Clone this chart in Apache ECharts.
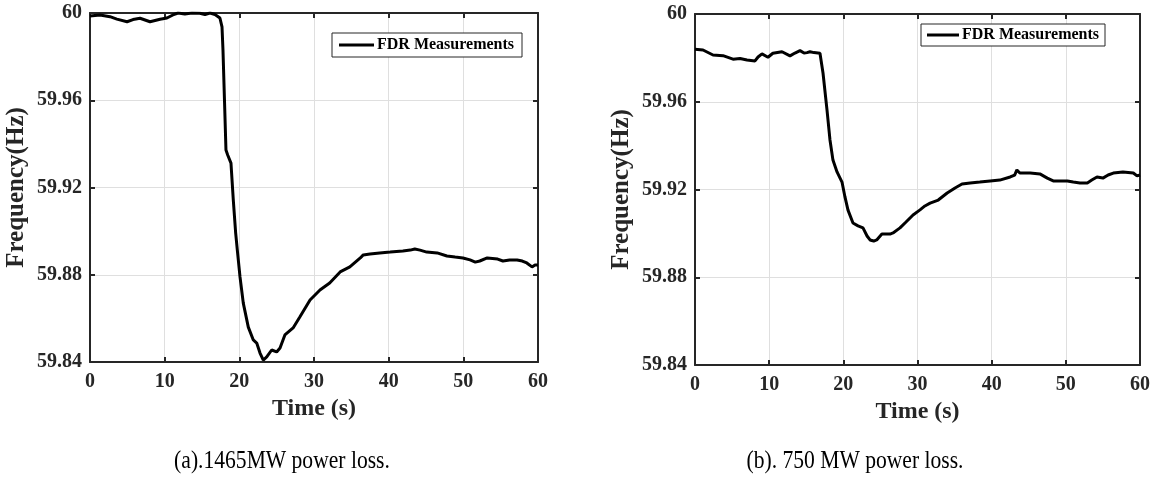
<!DOCTYPE html>
<html>
<head>
<meta charset="utf-8">
<script src="https://cdn.jsdelivr.net/npm/echarts@6/dist/echarts.min.js"></script>
<style>
html,body{margin:0;padding:0;background:#fff;}
#chart{width:1159px;height:481px;}
</style>
</head>
<body>
<div id="chart"></div>
<script>
// ---- Data ----
const timeA = [0, 1.34, 2.68, 3.6, 4.96, 5.76, 6.7, 8.04, 9.38, 10.3, 11.1, 11.8, 12.7, 13.66, 14.7, 15.4, 16.07, 16.74, 17.4, 17.68, 17.81, 18.01, 18.21, 18.44, 18.88, 19.19, 19.51, 19.73, 20.09, 20.53, 21.2, 21.87, 22.33, 22.77, 23.21, 23.67, 24.33, 25.0, 25.45, 26.1, 27.2, 28.1, 29.47, 30.8, 32.1, 33.5, 34.8, 36.2, 36.6, 37.5, 38.8, 40.2, 41.9, 42.9, 43.5, 44.2, 45.1, 46.5, 47.8, 48.9, 49.95, 50.9, 51.6, 52.2, 53.2, 54.6, 55.3, 56.2, 57.2, 57.9, 58.5, 59.2, 59.6, 60];
const freqA = [59.9986, 59.9991, 59.9983, 59.9972, 59.996, 59.997, 59.9976, 59.996, 59.9971, 59.9977, 59.9991, 60.0, 59.9995, 60.0, 59.9999, 59.9993, 60.0, 59.9993, 59.9977, 59.9936, 59.983, 59.9601, 59.9372, 59.9349, 59.9312, 59.9143, 59.8991, 59.8913, 59.879, 59.867, 59.856, 59.8501, 59.8487, 59.8441, 59.8409, 59.8423, 59.8455, 59.8446, 59.8464, 59.8524, 59.8556, 59.8606, 59.8684, 59.873, 59.8762, 59.8813, 59.8836, 59.8877, 59.8891, 59.8895, 59.89, 59.8904, 59.8909, 59.8913, 59.8918, 59.8913, 59.8904, 59.89, 59.8886, 59.8881, 59.8877, 59.8868, 59.8858, 59.8863, 59.8877, 59.8872, 59.8863, 59.8868, 59.8868, 59.8863, 59.8854, 59.8836, 59.8845, 59.8845];

const timeB = [0, 1.08, 2.43, 3.78, 5.12, 6.07, 7.01, 8.09, 8.5, 9.03, 9.84, 10.5, 11.73, 12.81, 13.48, 14.16, 14.7, 15.1, 15.5, 16.04, 16.85, 17.26, 17.8, 18.2, 18.6, 19.15, 19.82, 20.22, 20.63, 21.3, 21.98, 22.65, 23.2, 23.6, 24.1, 24.5, 25.2, 25.75, 26.3, 26.7, 27.64, 28.45, 29.4, 30.34, 31.0, 31.7, 32.8, 34.0, 35.06, 36.0, 37.1, 38.4, 39.8, 41.1, 42.5, 43.1, 43.4, 43.8, 45.2, 46.5, 47.5, 48.3, 49.2, 50.2, 51.0, 51.9, 52.9, 53.5, 54.2, 55.0, 55.7, 56.4, 57.7, 59.1, 59.6, 60];
const freqB = [59.9839, 59.9836, 59.9813, 59.981, 59.9794, 59.9797, 59.979, 59.9786, 59.9804, 59.9818, 59.9803, 59.9821, 59.9828, 59.9809, 59.9822, 59.9833, 59.9822, 59.9824, 59.9828, 59.9824, 59.9821, 59.9731, 59.9562, 59.9426, 59.9334, 59.928, 59.9234, 59.9166, 59.9106, 59.9047, 59.9034, 59.9025, 59.8988, 59.897, 59.8965, 59.897, 59.8997, 59.8997, 59.8997, 59.9002, 59.9025, 59.9052, 59.9084, 59.9107, 59.9125, 59.9138, 59.9152, 59.9184, 59.9207, 59.9225, 59.923, 59.9234, 59.9239, 59.9243, 59.9257, 59.9266, 59.9289, 59.9275, 59.9275, 59.9271, 59.9252, 59.9239, 59.9239, 59.9239, 59.9234, 59.923, 59.923, 59.9243, 59.9257, 59.9252, 59.9266, 59.9275, 59.928, 59.9275, 59.9262, 59.9266];

const seriesName = 'FDR Measurements';
const xTitle = 'Time (s)';
const yTitle = 'Frequency(Hz)';
const captionA = '(a).1465MW power loss.';
const captionB = '(b). 750 MW power loss.';
const xMin = 0, xMax = 60, xStep = 10;
const yMin = 59.84, yMax = 60, yStep = 0.04;

// ---- Styling ----
const FONT = "'Liberation Serif', 'Times New Roman', serif";
const AX = '#262626';
const GRIDC = '#dfdfdf';

function pairs(t, v) { return t.map((x, i) => [x, v[i]]); }

function mainX(gi) {
  return {
    type: 'value', gridIndex: gi, min: xMin, max: xMax, interval: xStep,
    position: 'bottom',
    name: xTitle, nameLocation: 'middle', nameGap: 31,
    nameTextStyle: { fontFamily: FONT, fontWeight: 'bold', fontSize: 24, color: AX },
    axisLine: { show: true, onZero: false, lineStyle: { color: AX, width: 2 } },
    axisTick: { show: true, inside: true, length: 5, lineStyle: { color: AX, width: 2 } },
    axisLabel: { fontFamily: FONT, fontWeight: 'bold', fontSize: 20, color: AX, margin: 10 },
    splitLine: { show: true, lineStyle: { color: GRIDC, width: 1 } }
  };
}
function boxX(gi) {
  return {
    type: 'value', gridIndex: gi, min: xMin, max: xMax, interval: xStep,
    position: 'top',
    axisLine: { show: true, onZero: false, lineStyle: { color: AX, width: 2 } },
    axisTick: { show: true, inside: true, length: 5, lineStyle: { color: AX, width: 2 } },
    axisLabel: { show: false },
    splitLine: { show: false }
  };
}
function mainY(gi) {
  return {
    type: 'value', gridIndex: gi, min: yMin, max: yMax, interval: yStep,
    position: 'left',
    name: yTitle, nameLocation: 'middle', nameGap: 61,
    nameTextStyle: { fontFamily: FONT, fontWeight: 'bold', fontSize: 25, color: AX },
    axisLine: { show: true, onZero: false, lineStyle: { color: AX, width: 2 } },
    axisTick: { show: true, inside: true, length: 5, lineStyle: { color: AX, width: 2 } },
    axisLabel: { fontFamily: FONT, fontWeight: 'bold', fontSize: 20, color: AX, margin: 8 },
    splitLine: { show: true, lineStyle: { color: GRIDC, width: 1 } }
  };
}
function boxY(gi) {
  return {
    type: 'value', gridIndex: gi, min: yMin, max: yMax, interval: yStep,
    position: 'right',
    axisLine: { show: true, onZero: false, lineStyle: { color: AX, width: 2 } },
    axisTick: { show: true, inside: true, length: 5, lineStyle: { color: AX, width: 2 } },
    axisLabel: { show: false },
    splitLine: { show: false }
  };
}
function legendAt(left, top, iconW, pad) {
  return {
    left: left, top: top,
    data: [seriesName],
    icon: 'rect', itemWidth: iconW, itemHeight: 3,
    padding: pad, itemGap: 0,
    backgroundColor: '#fff',
    borderColor: AX, borderWidth: 1, borderRadius: 0,
    selectedMode: false,
    textStyle: { fontFamily: FONT, fontWeight: 'bold', fontSize: 16, color: '#000', padding: [0, 0, 0, -2] }
  };
}

const chart = echarts.init(document.getElementById('chart'), null, { renderer: 'canvas' });
chart.setOption({
  animation: false,
  backgroundColor: '#fff',
  grid: [
    { left: 90, right: 621, top: 13, bottom: 119, containLabel: false },
    { left: 695, right: 19, top: 14, bottom: 116, containLabel: false }
  ],
  xAxis: [mainX(0), boxX(0), mainX(1), boxX(1)],
  yAxis: [mainY(0), boxY(0), mainY(1), boxY(1)],
  legend: [legendAt(332, 33, 35, [4, 8, 4, 7]), legendAt(921, 24, 32, [3, 6, 3, 6])],
  series: [
    { name: seriesName, type: 'line', xAxisIndex: 0, yAxisIndex: 0, data: pairs(timeA, freqA),
      symbol: 'none', smooth: false, lineStyle: { color: '#000', width: 3 }, itemStyle: { color: '#000' } },
    { name: seriesName, type: 'line', xAxisIndex: 2, yAxisIndex: 2, data: pairs(timeB, freqB),
      symbol: 'none', smooth: false, lineStyle: { color: '#000', width: 3 }, itemStyle: { color: '#000' } }
  ],
  graphic: [
    { type: 'text', x: 282, y: 461, scaleX: 0.83, style: { text: captionA, font: '26px ' + FONT, fill: '#000', textAlign: 'center', textVerticalAlign: 'middle' } },
    { type: 'text', x: 855, y: 461, scaleX: 0.83, style: { text: captionB, font: '26px ' + FONT, fill: '#000', textAlign: 'center', textVerticalAlign: 'middle' } }
  ]
});
</script>
</body>
</html>
